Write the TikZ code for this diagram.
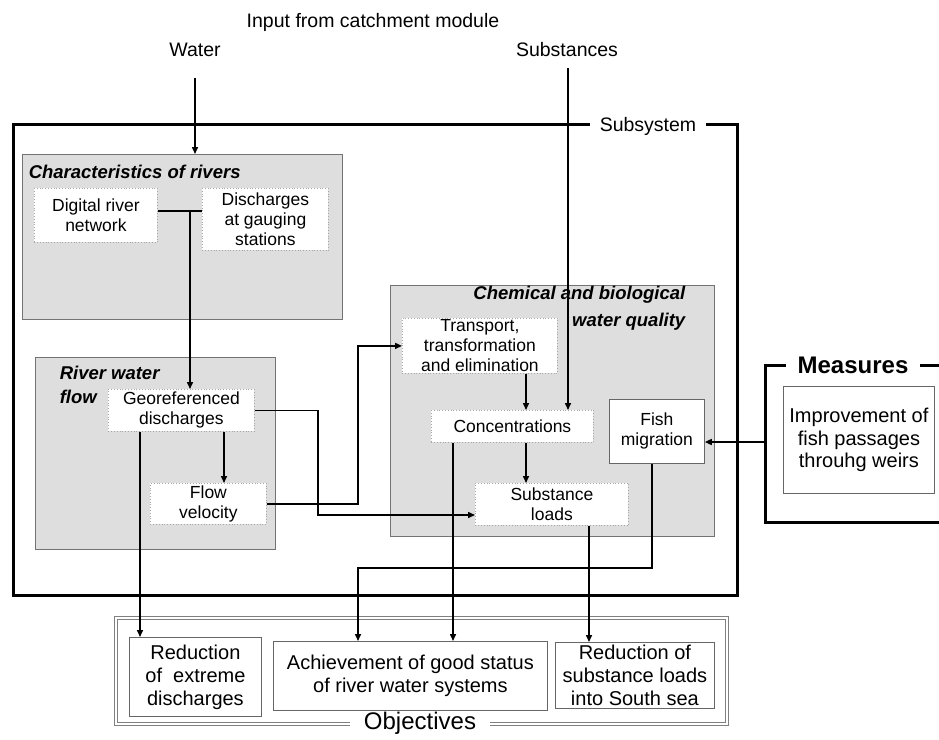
\documentclass[tikz,border=0pt]{standalone}
\usepackage{fontspec}
\setmainfont{Liberation Sans}
\usetikzlibrary{arrows.meta}

\begin{document}
\begin{tikzpicture}[x=1pt,y=-1pt,line width=1.5pt,
  arr/.style={-{Triangle[length=7pt,width=6pt]}},
  frame/.style={line width=3pt},
  lbl/.style={inner sep=1pt,font=\fontsize{19.5}{22}\selectfont},
  gap/.style={fill=white,inner ysep=2pt},
  graybox/.style={draw=black!55,line width=.8pt,fill=black!13,anchor=north west,inner sep=0pt},
  title/.style={inner sep=0pt,font=\fontsize{18.5}{24}\selectfont\bfseries\itshape},
  dotbox/.style={draw=black!35,dotted,line width=.8pt,fill=white,anchor=north west,inner sep=0pt,align=center,font=\fontsize{17.5}{20}\selectfont},
  solbox/.style={dotbox,solid,draw=black!60},
  objbox/.style={solbox,font=\fontsize{20}{23}\selectfont}]
\path[use as bounding box] (0,0) rectangle (939,739);
% inputs
\node[lbl] (input) at (373,22) {Input from catchment module};
\node[lbl] (water) at (195,50) {Water};
\node[lbl] (subst) at (567,50) {Substances};
\coordinate (wat0) at (195,78);
\coordinate (sub0) at (568,68);
% subsystem frame
\draw[frame] (13,124) rectangle (737,595);
\node[lbl,gap,inner xsep=10pt] (subsys) at (648,126) {Subsystem};
% measures frame
\draw[frame] (939,365) -- (765,365) -- (765,522) -- (939,522);
\node[gap,inner xsep=12pt,font=\fontsize{24}{28}\selectfont\bfseries] (meas) at (853,365) {Measures};
\node[solbox,minimum width=151pt,minimum height=107pt,font=\fontsize{20}{22.5}\selectfont] (weirs) at (783,386) {Improvement of\\fish passages\\throuhg weirs};
% objectives frame
\draw[draw=black!50,double,double distance=1.2pt,line width=1pt] (116,618) rectangle (727,724);
\node[gap,inner xsep=14pt,font=\fontsize{24}{28}\selectfont] (obj) at (420,723) {Objectives};
\node[objbox,minimum width=132pt,minimum height=79pt] (red1) at (129,637) {Reduction\\of \ extreme\\discharges};
\node[objbox,minimum width=274pt,minimum height=69pt] (ach) at (273,641) {Achievement of good status\\of river water systems};
\node[objbox,minimum width=159pt,minimum height=66pt] (red2) at (555,642) {Reduction of\\substance loads\\into South sea};
% characteristics of rivers
\node[graybox,minimum width=320pt,minimum height=165pt] (chars) at (22,154) {};
\node[title,anchor=west] (charst) at (28,172) {Characteristics of rivers};
\node[dotbox,minimum width=123pt,minimum height=54pt] (drn) at (34,188) {Digital river\\network};
\node[dotbox,minimum width=126pt,minimum height=62pt] (dgs) at (202,188) {Discharges\\at gauging\\stations};
% river water flow
\node[graybox,minimum width=240pt,minimum height=192pt] (flow) at (35,357) {};
\node[title,anchor=west,align=left] (flowt) at (59,385) {River water\\flow};
\node[dotbox,minimum width=146pt,minimum height=42pt] (geo) at (108,389) {Georeferenced\\discharges};
\node[dotbox,minimum width=116pt,minimum height=41pt] (vel) at (150,483) {Flow\\velocity};
% chemical and biological water quality
\node[graybox,minimum width=324pt,minimum height=251pt] (chem) at (390,285) {};
\node[title,anchor=east,align=right,font=\fontsize{18.5}{27}\selectfont\bfseries\itshape] (chemt) at (686,308) {Chemical and biological\\water quality};
\node[dotbox,minimum width=155pt,minimum height=55pt] (trans) at (402,318) {Transport,\\transformation\\and elimination};
\node[dotbox,minimum width=162pt,minimum height=32pt] (conc) at (431,410) {Concentrations};
\node[dotbox,minimum width=153pt,minimum height=42pt] (loads) at (475,483) {Substance\\loads};
\node[solbox,minimum width=95pt,minimum height=64pt] (fish) at (609,399) {Fish\\migration};
% lanes
\coordinate (jn) at (190,211);
\coordinate (lnA) at (140,0);
\coordinate (lnB) at (224,0);
\coordinate (lnC) at (526,0);
\coordinate (lnD) at (453,0);
\coordinate (lnE) at (589,0);
\coordinate (lnF) at (652,568);
\coordinate (lnG) at (358,568);
\coordinate (lnH) at (318,515);
\coordinate (lnI) at (358,0);
\coordinate (min) at (765,442);
% connectors
\draw[arr] (wat0) -- (wat0 |- chars.north);
\draw[arr] (sub0) -- (sub0 |- conc.north);
\draw (drn.east |- jn) -- (dgs.west |- jn);
\draw[arr] (jn) -- (jn |- geo.north);
\draw[arr] (geo.south -| lnB) -- (lnB |- vel.north);
\draw[arr] (geo.east) -- (geo.east -| lnH) -- (lnH) -- (lnH -| loads.west);
\draw[arr] (vel.east) -- (vel.east -| lnI) -- (lnI |- trans.west) -- (trans.west);
\draw[arr] (trans.south -| lnC) -- (lnC |- conc.north);
\draw[arr] (conc.south -| lnC) -- (lnC |- loads.north);
\draw[arr] (min) -- (min -| fish.east);
\draw[arr] (geo.south -| lnA) -- (lnA |- red1.north);
\draw[arr] (conc.south -| lnD) -- (lnD |- ach.north);
\draw[arr] (loads.south -| lnE) -- (lnE |- red2.north);
\draw[arr] (fish.south -| lnF) -- (lnF) -- (lnG) -- (lnG |- ach.north);
\end{tikzpicture}
\end{document}
